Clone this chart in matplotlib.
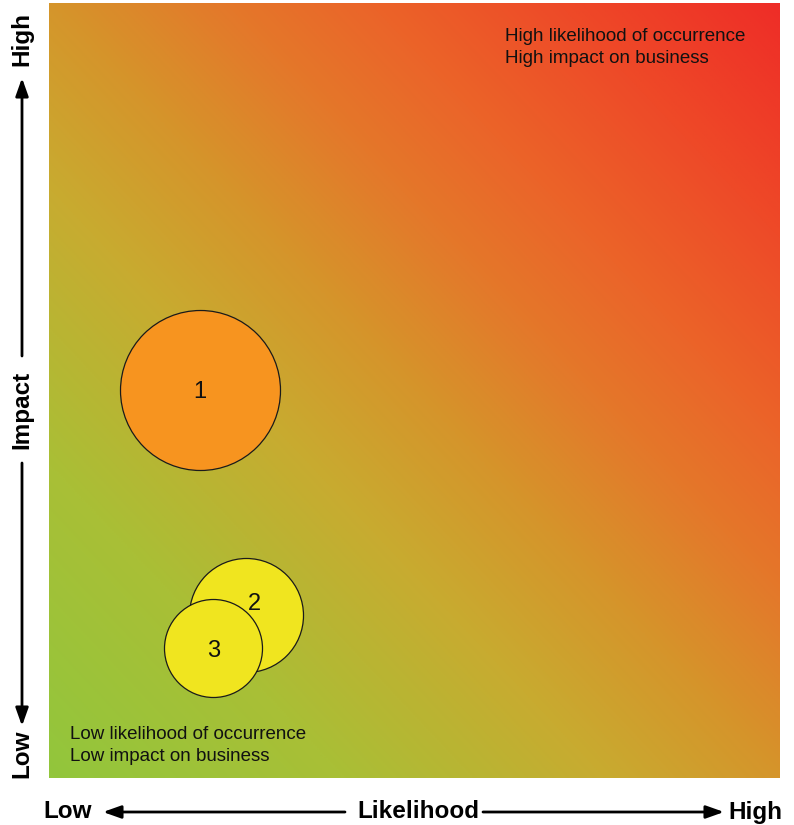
import numpy as np
import matplotlib
matplotlib.use("Agg")
import matplotlib.pyplot as plt
from matplotlib.colors import LinearSegmentedColormap
from matplotlib.patches import FancyArrowPatch

plt.rcParams['font.family'] = ['Liberation Sans', 'DejaVu Sans']

# Risk items: likelihood (x, 0-10), impact (y, 0-10), bubble radius (px)
risk_ids = ["1", "2", "3"]
likelihood = [2.07, 2.70, 2.25]
impact = [5.00, 2.10, 1.68]
bubble_radius = [80, 57, 49]
bubble_colors = ["#f7941f", "#f0e51f", "#f0e51f"]

corner_high = "High likelihood of occurrence\nHigh impact on business"
corner_low = "Low likelihood of occurrence\nLow impact on business"

W, H, DPI = 794, 825, 100
fig = plt.figure(figsize=(W / DPI, H / DPI), dpi=DPI)
fig.patch.set_facecolor("white")

ax_l, ax_r, ax_t, ax_b = 49, 779, 3, 778
ax = fig.add_axes([ax_l / W, 1 - ax_b / H, (ax_r - ax_l) / W, (ax_b - ax_t) / H])
ax.set_xlim(0, 10)
ax.set_ylim(0, 10)
ax.set_axis_off()

# diagonal green -> orange -> red background
cmap = LinearSegmentedColormap.from_list("risk", [
    (0.00, "#92c63c"),
    (0.20, "#a9bf36"),
    (0.38, "#c8ab30"),
    (0.50, "#d5952b"),
    (0.62, "#e4782a"),
    (0.72, "#eb6429"),
    (0.85, "#ee4a28"),
    (1.00, "#ee2d27"),
])
u = np.linspace(0, 1, 400)
v = np.linspace(0, 1, 400)
U, V = np.meshgrid(u, v)
D = (U + V) / 2
ax.imshow(D, cmap=cmap, extent=(0, 10, 0, 10), origin="lower",
          aspect="auto", zorder=0, vmin=0, vmax=1, interpolation="bilinear")

# bubbles
px_to_pt = 72 / DPI
sizes = [(2 * r * px_to_pt) ** 2 for r in bubble_radius]
label_offsets = [(0, -1), (6, 8), (0, -2)]
for i in range(len(risk_ids)):
    ax.scatter([likelihood[i]], [impact[i]], s=sizes[i], c=bubble_colors[i],
               edgecolors="#1a1a1a", linewidths=0.9, zorder=3 + i)
    ax.annotate(risk_ids[i], (likelihood[i], impact[i]),
                xytext=label_offsets[i], textcoords="offset points",
                ha="center", va="center", fontsize=17, color="#111111",
                zorder=3 + i)

ax.text(0.625, 0.968, corner_high, transform=ax.transAxes, ha="left", va="top",
        fontsize=13.5, color="#111111", linespacing=1.38, zorder=10)
ax.text(0.029, 0.067, corner_low, transform=ax.transAxes, ha="left", va="top",
        fontsize=13.5, color="#111111", linespacing=1.38, zorder=10)

# axis captions with arrows, placed in figure pixel coordinates
def fx(px):
    return px / W

def fy(py):
    return 1 - py / H

bold = dict(fontsize=17.5, fontweight="bold", color="black")
fig.text(fx(68), fy(812), "Low", ha="center", va="center", **bold)
fig.text(fx(418), fy(812), "Likelihood", ha="center", va="center", **bold)
fig.text(fx(755), fy(812), "High", ha="center", va="center", **bold)

fig.text(fx(22), fy(39), "High", ha="center", va="center", rotation=90, **bold)
fig.text(fx(22), fy(410), "Impact", ha="center", va="center", rotation=90, **bold)
fig.text(fx(22), fy(754), "Low", ha="center", va="center", rotation=90, **bold)

for tail, tip in [((345, 812), (103, 812)), ((483, 812), (724, 812)),
                  ((22, 356), (22, 78)), ((22, 463), (22, 726))]:
    fig.add_artist(FancyArrowPatch(
        (fx(tail[0]), fy(tail[1])), (fx(tip[0]), fy(tip[1])),
        transform=fig.transFigure,
        arrowstyle="-|>,head_length=0.9,head_width=0.32",
        mutation_scale=12, lw=2, color="black", shrinkA=0, shrinkB=0))

fig.savefig("out.png", dpi=DPI)
